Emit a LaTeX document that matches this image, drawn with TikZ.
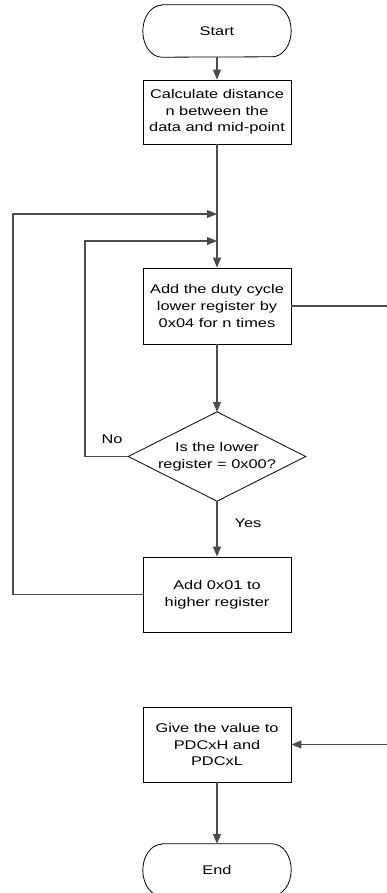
\documentclass[tikz,border=0pt]{standalone}
\usepackage{fontspec}
\setmainfont{Liberation Sans}[FakeStretch=1.3]
\usetikzlibrary{arrows.meta}
\begin{document}
\begin{tikzpicture}[x=1pt,y=-1pt,
  every node/.style={font=\fontsize{12.6}{16.7}\selectfont, align=center, inner sep=0pt},
  procbox/.style={draw=black, line width=0.8pt, minimum width=148pt},
  termbox/.style={minimum width=148pt, minimum height=52pt},
  decbox/.style={minimum width=177pt, minimum height=89pt},
  conn/.style={draw=black!70, line width=1.1pt},
  arr/.style={conn, -{Triangle[length=10pt,width=8pt]}},
  lbl/.style={anchor=center}]
\useasboundingbox (0,0) rectangle (387,893);
\node[termbox] (start) at (217,31) {Start};
\node[procbox, minimum height=64pt] (b1) at (217,112) {Calculate distance\\n between the\\data and mid-point};
\coordinate (j1) at (217,214);
\coordinate (j2) at (217,241);
\node[procbox, minimum height=76pt] (b2) at (217,306) {Add the duty cycle\\lower register by\\0x04 for n times};
\node[decbox] (d) at (217,456.5) {Is the lower\\register = 0x00?};
\node[procbox, minimum height=75pt] (b3) at (217,594.5) {Add 0x01 to\\higher register};
\node[procbox, minimum height=75pt] (b5) at (217,744.5) {Give the value to\\PDCxH and\\PDCxL};
\node[termbox] (end) at (217,870) {End};
\coordinate (lo) at (13,594.5);
\coordinate (lo2) at (13,214);
\coordinate (li) at (85,456.5);
\coordinate (li2) at (85,241);
\coordinate (ro) at (389,306);
\coordinate (ro2) at (389,744.5);
\node[lbl] (no) at (112,439) {No};
\node[lbl] (yes) at (248,523) {Yes};
% shapes
\foreach \n in {start,end}{
  \draw[line width=0.8pt] ([xshift=19pt]\n.north west) -- ([xshift=-19pt]\n.north east)
    arc[start angle=90,end angle=-90,x radius=19pt,y radius=26pt]
    -- ([xshift=19pt]\n.south west)
    arc[start angle=270,end angle=90,x radius=19pt,y radius=26pt] -- cycle;
}
\draw[line width=0.8pt] (d.north) -- (d.east) -- (d.south) -- (d.west) -- cycle;
% connectors
\draw[arr] (start.south) -- (b1.north);
\draw[arr] (b1.south) -- (b2.north);
\draw[arr] (b2.south) -- (d.north);
\draw[arr] (d.south) -- (b3.north);
\draw[arr] (d.west) -- (li) -- (li2) -- (j2);
\draw[arr] (b3.west) -- (lo) -- (lo2) -- (j1);
\draw[arr] (b2.east) -- (ro) -- (ro2) -- (b5.east);
\draw[arr] (b5.south) -- (end.north);
\end{tikzpicture}
\end{document}
